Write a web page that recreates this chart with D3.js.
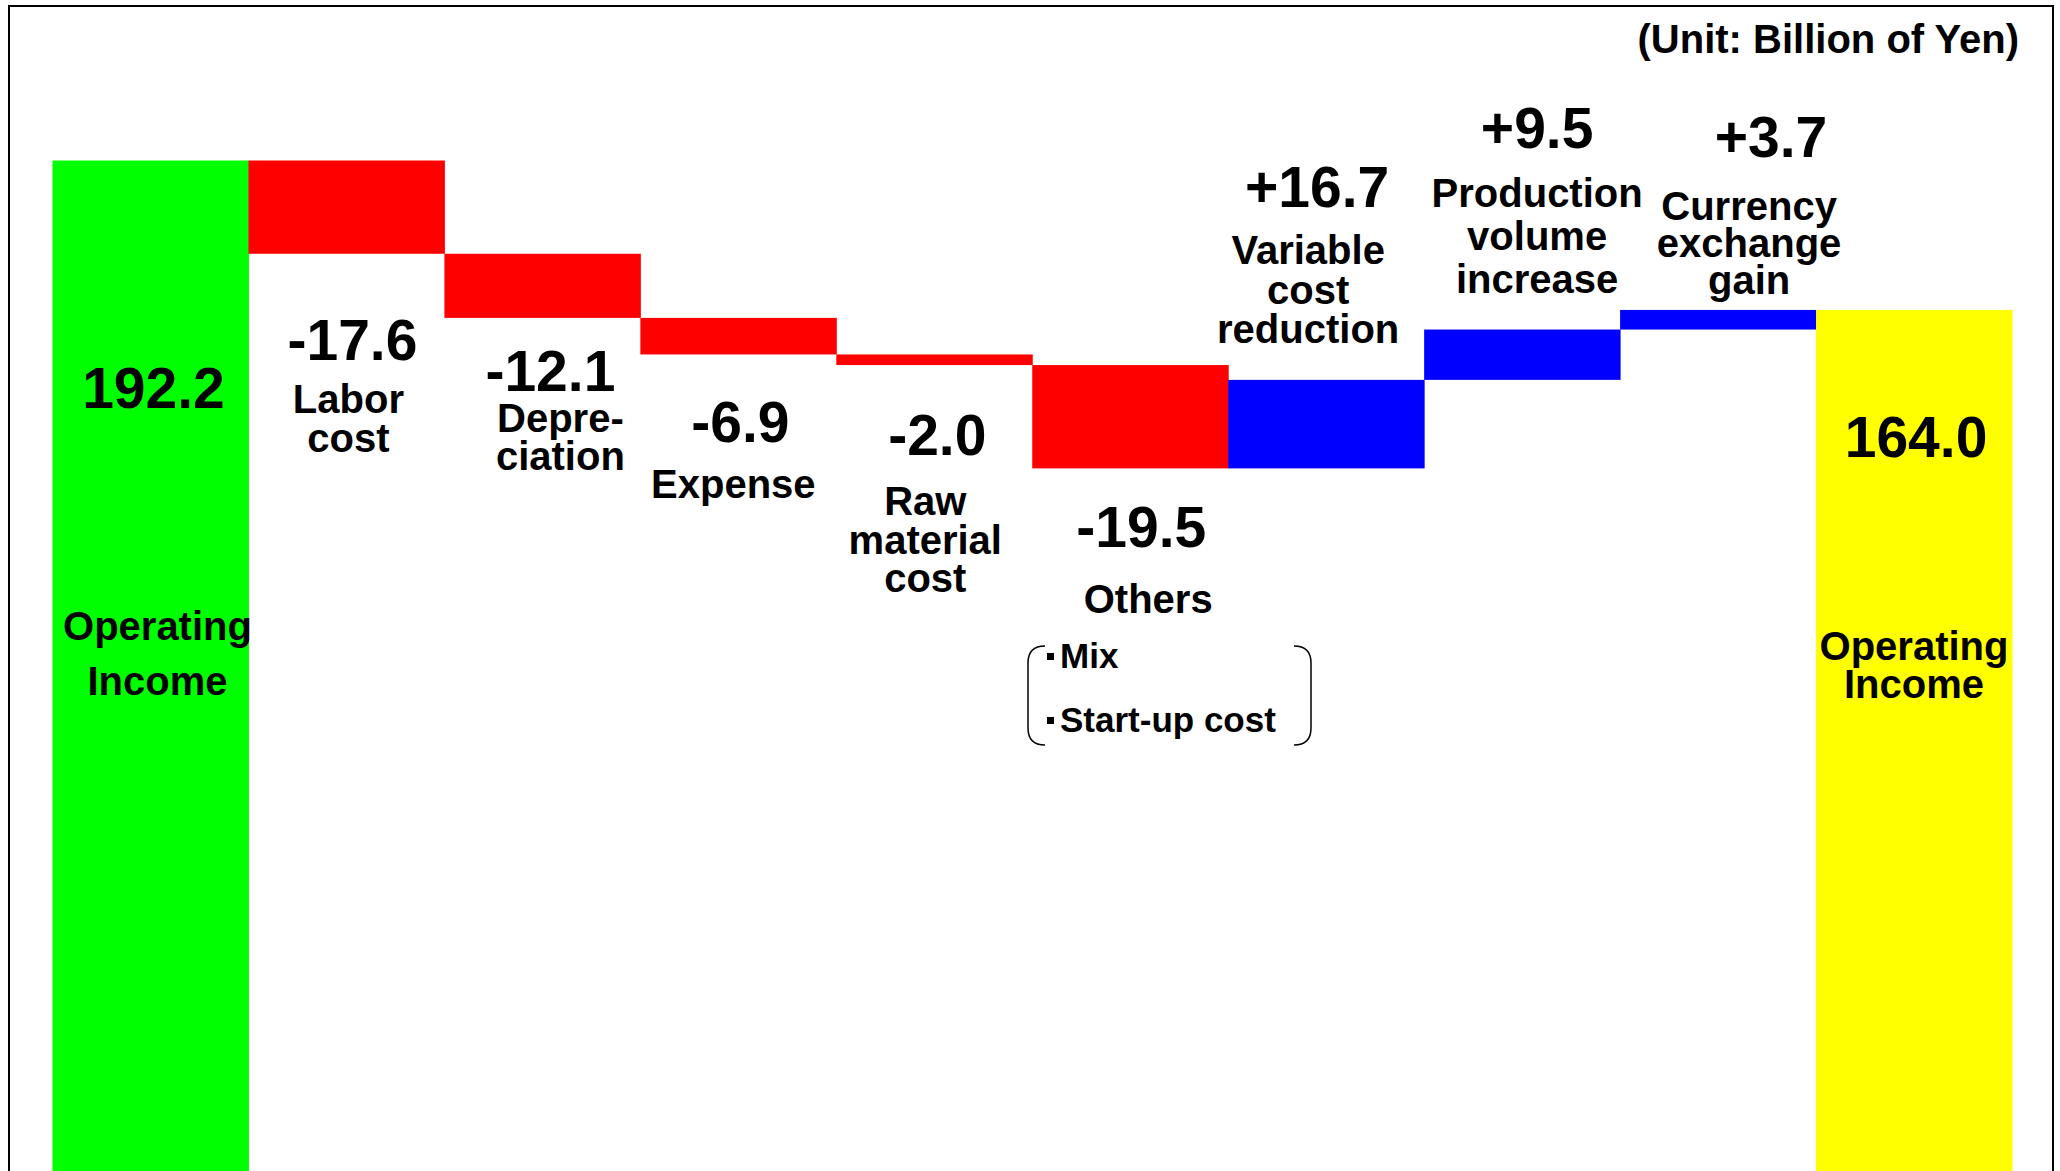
<!DOCTYPE html>
<html>
<head>
<meta charset="utf-8">
<script src="https://cdn.jsdelivr.net/npm/d3@7"></script>
<style>
  html, body { margin: 0; padding: 0; background: #fff; }
  svg text { font-family: "Liberation Sans", Arial, sans-serif; font-weight: bold; fill: #000; }
</style>
</head>
<body>
<div id="chart"></div>
<script>
// chart data
var categories = ["Operating Income", "Labor cost", "Depreciation", "Expense", "Raw material cost",
                  "Others", "Variable cost reduction", "Production volume increase",
                  "Currency exchange gain", "Operating Income"];
var values = [192.2, -17.6, -12.1, -6.9, -2.0, -19.5, 16.7, 9.5, 3.7, 164.0];
var isTotal = [true, false, false, false, false, false, false, false, false, true];
var valueLabels = ["192.2", "-17.6", "-12.1", "-6.9", "-2.0", "-19.5", "+16.7", "+9.5", "+3.7", "164.0"];
var nameLines = [["Operating", "Income"], ["Labor", "cost"], ["Depre-", "ciation"], ["Expense"],
                 ["Raw", "material", "cost"], ["Others"], ["Variable", "cost", "reduction"],
                 ["Production", "volume", "increase"], ["Currency", "exchange", "gain"],
                 ["Operating", "Income"]];
var othersNotes = ["Mix", "Start-up cost"];
var unitText = "(Unit: Billion of Yen)";

// layout of the labels (offset from the band centre, baseline y, line height)
var valuePos = [{dx: 3, y: 408}, {dx: 6, y: 360}, {dx: 8, y: 391}, {dx: 2, y: 442}, {dx: 3, y: 455},
                {dx: 11, y: 547}, {dx: -9, y: 207}, {dx: 15, y: 148}, {dx: 53, y: 157}, {dx: 2, y: 457}];
var namePos = [{dx: 7, y: 640, lh: 55}, {dx: 2, y: 413, lh: 39}, {dx: 18, y: 432, lh: 38},
               {dx: -5, y: 498, lh: 0}, {dx: -9, y: 515, lh: 38.5}, {dx: 18, y: 613, lh: 0},
               {dx: -18, y: 264, lh: 39.5}, {dx: 15, y: 207, lh: 43}, {dx: 31, y: 220, lh: 37},
               {dx: 0, y: 660, lh: 38}];

var W = 2060, H = 1171;

var svg = d3.select("#chart").append("svg")
    .attr("width", W)
    .attr("height", H);

var x = d3.scaleBand()
    .domain(d3.range(categories.length))
    .range([52.5, 2012])
    .padding(0);

var y = d3.scaleLinear()
    .domain([0, 192.2])
    .range([1179, 160.5]);

// running totals for the waterfall
var bars = [];
var run = 0;
values.forEach(function (v, i) {
    var start, end, color;
    if (isTotal[i]) {
        start = 0; end = v; run = v;
        color = i == 0 ? "#00ff00" : "#ffff00";
    } else {
        start = run; end = run + v; run = end;
        color = v < 0 ? "#ff0000" : "#0000ff";
    }
    bars.push({i: i, lo: Math.min(start, end), hi: Math.max(start, end), color: color});
});

svg.selectAll(".bar")
    .data(bars)
    .enter().append("rect")
    .attr("class", "bar")
    .attr("x", function (d) { return x(d.i); })
    .attr("width", x.bandwidth() + 0.5)
    .attr("y", function (d) { return y(d.hi); })
    .attr("height", function (d) { return y(d.lo) - y(d.hi); })
    .style("fill", function (d) { return d.color; });

// frame
svg.append("rect")
    .attr("x", 9).attr("y", 6)
    .attr("width", 2044).attr("height", 1250)
    .style("fill", "none")
    .style("stroke", "#000")
    .style("stroke-width", 2);

svg.append("text")
    .attr("x", 2019).attr("y", 53)
    .attr("text-anchor", "end")
    .style("font-size", "40px")
    .text(unitText);

var cx = function (i) { return x(i) + x.bandwidth() / 2; };

svg.selectAll(".val")
    .data(valueLabels)
    .enter().append("text")
    .attr("class", "val")
    .attr("x", function (d, i) { return cx(i) + valuePos[i].dx; })
    .attr("y", function (d, i) { return valuePos[i].y; })
    .attr("text-anchor", "middle")
    .style("font-size", "57px")
    .text(function (d) { return d; });

nameLines.forEach(function (lines, i) {
    var t = svg.append("text")
        .attr("class", "name")
        .attr("text-anchor", "middle")
        .style("font-size", "40px");
    lines.forEach(function (ln, k) {
        t.append("tspan")
            .attr("x", cx(i) + namePos[i].dx)
            .attr("y", namePos[i].y + k * namePos[i].lh)
            .text(ln);
    });
});

// "Others" breakdown in round brackets
var bx0 = 1028, bx1 = 1311, by0 = 646, by1 = 745, r = 17;
svg.append("path")
    .attr("d", "M" + (bx0 + r) + "," + by0 + " Q" + bx0 + "," + by0 + " " + bx0 + "," + (by0 + r) +
               " L" + bx0 + "," + (by1 - r) + " Q" + bx0 + "," + by1 + " " + (bx0 + r) + "," + by1)
    .style("fill", "none").style("stroke", "#000").style("stroke-width", 1.5);
svg.append("path")
    .attr("d", "M" + (bx1 - r) + "," + by0 + " Q" + bx1 + "," + by0 + " " + bx1 + "," + (by0 + r) +
               " L" + bx1 + "," + (by1 - r) + " Q" + bx1 + "," + by1 + " " + (bx1 - r) + "," + by1)
    .style("fill", "none").style("stroke", "#000").style("stroke-width", 1.5);

othersNotes.forEach(function (n, k) {
    var by = 668 + k * 64;
    svg.append("rect")
        .attr("x", 1047).attr("y", by - 15)
        .attr("width", 7).attr("height", 7)
        .style("fill", "#000");
    svg.append("text")
        .attr("x", 1060).attr("y", by)
        .style("font-size", "35px")
        .text(n);
});
</script>
</body>
</html>
